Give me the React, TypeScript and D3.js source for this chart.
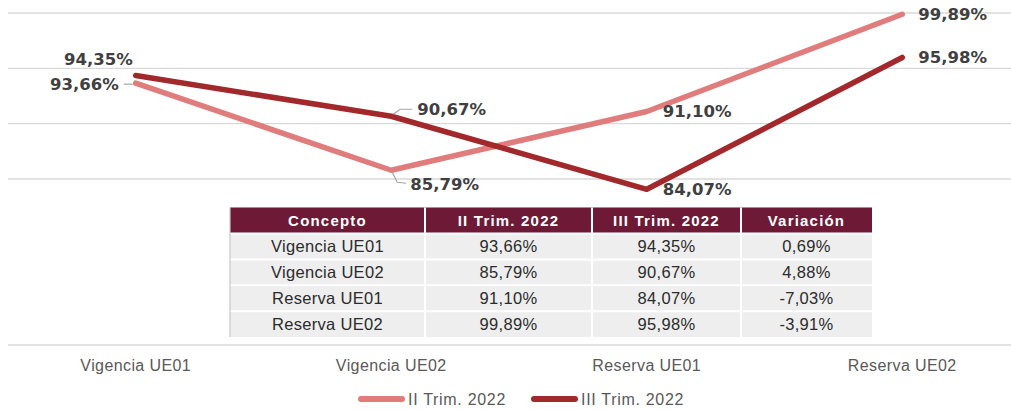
import React from 'react';
import * as d3 from 'd3';

const categories = ['Vigencia UE01', 'Vigencia UE02', 'Reserva UE01', 'Reserva UE02'];
const seriesNames = ['II Trim. 2022', 'III Trim. 2022'];
const trim2 = [93.66, 85.79, 91.1, 99.89];
const trim3 = [94.35, 90.67, 84.07, 95.98];
const variacion = [0.69, 4.88, -7.03, -3.91];
const gridTicks = [85, 90, 95, 100];
const tableHeaders = ['Concepto', 'II Trim. 2022', 'III Trim. 2022', 'Variación'];

const colors = ['#e07c7c', '#a2282b'];

// label placement per series/point: dx, dy, anchor, leader path (relative)
const labelPos = [
  [
    { dx: -17, dy: 1, anchor: 'end', leader: [[-3, 1], [-12, 1]] },
    { dx: 19, dy: 14, anchor: 'start', leader: [[1, 2], [6, 12], [15, 13]] },
    { dx: 16, dy: 0, anchor: 'start', leader: null },
    { dx: 16, dy: 0, anchor: 'start', leader: null },
  ],
  [
    { dx: -3, dy: -16, anchor: 'end', leader: null },
    { dx: 26, dy: -7, anchor: 'start', leader: [[2, -2], [9, -7], [21, -7]] },
    { dx: 16, dy: 0, anchor: 'start', leader: null },
    { dx: 16, dy: 0, anchor: 'start', leader: null },
  ],
];

const fmt = (v: number) => d3.format('.2f')(v).replace('.', ',').replace('−', '-') + '%';

export default function App() {
  const W = 1011;
  const H = 410;
  const x = d3.scaleBand<string>().domain(categories).range([8, 1030]).padding(0);
  const cx = (c: string) => (x(c) as number) + x.bandwidth() / 2;
  const y = d3.scaleLinear().domain([70, 100]).range([345, 13]);

  const line = d3
    .line<number>()
    .x((_, i) => cx(categories[i]))
    .y((d) => y(d));

  const series = [trim2, trim3];

  // table layout
  const colX = [230, 425, 592, 741, 872];
  const rowY = d3.range(6).map((i) => (i === 0 ? 207.5 : 233.5 + (i - 1) * 25.9));
  const rows = categories.map((c, i) => [c, fmt(trim2[i]), fmt(trim3[i]), fmt(variacion[i])]);

  const axisFont = "'Liberation Sans', Arial, sans-serif";

  return (
    <svg width={W} height={H} style={{ position: 'absolute', left: 0, top: 0, background: '#fff' }}>
      {/* grid */}
      {gridTicks.map((t) => (
        <line key={t} x1={8} x2={W} y1={y(t)} y2={y(t)} stroke="#d9d9d9" strokeWidth={1.3} />
      ))}
      <line x1={8} x2={W} y1={y(70)} y2={y(70)} stroke="#d9d9d9" strokeWidth={1.5} />

      {/* category labels */}
      {categories.map((c) => (
        <text
          key={c}
          x={cx(c)}
          y={371}
          textAnchor="middle"
          fontFamily={axisFont}
          fontSize={16}
          letterSpacing={0.4}
          fill="#595959"
        >
          {c}
        </text>
      ))}

      {/* table */}
      <g>
        <rect x={colX[0]} y={rowY[0]} width={colX[4] - colX[0]} height={rowY[5] - rowY[0]} fill="#eeeeee" />
        <rect x={colX[0]} y={rowY[0]} width={colX[4] - colX[0]} height={rowY[1] - rowY[0]} fill="#6e1a36" />
        {d3.range(2, 5).map((i) => (
          <line key={'h' + i} x1={colX[0]} x2={colX[4]} y1={rowY[i]} y2={rowY[i]} stroke="#ffffff" strokeWidth={2} />
        ))}
        <line x1={colX[0]} x2={colX[4]} y1={rowY[1]} y2={rowY[1]} stroke="#ffffff" strokeWidth={2} />
        {colX.slice(1, 4).map((cxx, i) => (
          <line key={'v' + i} x1={cxx} x2={cxx} y1={rowY[0]} y2={rowY[5]} stroke="#ffffff" strokeWidth={2} />
        ))}
        <line x1={colX[0]} x2={colX[0]} y1={rowY[0]} y2={rowY[5]} stroke="#c8c8c8" strokeWidth={1.2} />
        {tableHeaders.map((h, j) => (
          <text
            key={h}
            x={(colX[j] + colX[j + 1]) / 2}
            y={rowY[0] + 13}
            dy="0.35em"
            textAnchor="middle"
            fontFamily={axisFont}
            fontWeight="bold"
            fontSize={15}
            letterSpacing={1.2}
            fill="#ffffff"
          >
            {h}
          </text>
        ))}
        {rows.map((r, i) =>
          r.map((v, j) => (
            <text
              key={i + '-' + j}
              x={(colX[j] + colX[j + 1]) / 2}
              y={(rowY[i + 1] + rowY[i + 2]) / 2}
              dy="0.36em"
              textAnchor="middle"
              fontFamily={axisFont}
              fontSize={16.5}
              letterSpacing={0.3}
              fill="#2b2b2b"
            >
              {v}
            </text>
          ))
        )}
      </g>

      {/* lines */}
      {series.map((s, k) => (
        <path
          key={k}
          d={line(s) as string}
          fill="none"
          stroke={colors[k]}
          strokeWidth={5.5}
          strokeLinecap="round"
          strokeLinejoin="round"
        />
      ))}

      {/* data labels */}
      {series.map((s, k) =>
        s.map((v, i) => {
          const px = cx(categories[i]);
          const py = y(v);
          const p = labelPos[k][i];
          return (
            <g key={k + '-' + i}>
              {p.leader && (
                <polyline
                  points={p.leader.map(([a, b]) => `${px + a},${py + b}`).join(' ')}
                  fill="none"
                  stroke="#a6a6a6"
                  strokeWidth={1.2}
                />
              )}
              <text
                x={px + p.dx}
                y={py + p.dy}
                dy="0.36em"
                textAnchor={p.anchor as any}
                fontFamily="'DejaVu Sans', Verdana, sans-serif"
                fontWeight="bold"
                fontSize={16.5}
                fill="#404040"
              >
                {fmt(v)}
              </text>
            </g>
          );
        })
      )}

      {/* legend */}
      {seriesNames.map((n, k) => {
        const lx = k === 0 ? 358 : 531;
        return (
          <g key={n}>
            <line x1={lx + 3} x2={lx + 44} y1={399} y2={399} stroke={colors[k]} strokeWidth={6} strokeLinecap="round" />
            <text x={lx + 50} y={399} dy="0.36em" fontFamily={axisFont} fontSize={16} letterSpacing={0.7} fill="#595959">
              {n}
            </text>
          </g>
        );
      })}
    </svg>
  );
}
